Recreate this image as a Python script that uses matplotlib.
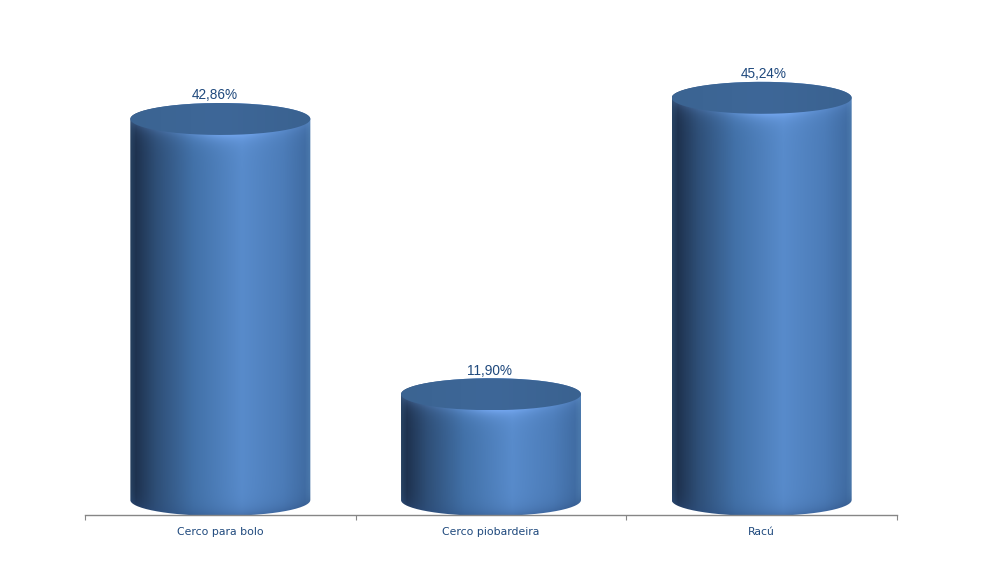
import matplotlib
matplotlib.use('Agg')
import matplotlib.pyplot as plt
from matplotlib.colors import LinearSegmentedColormap
from matplotlib.path import Path
from matplotlib.patches import PathPatch
import numpy as np

categories = ['Cerco para bolo', 'Cerco piobardeira', 'Racú']
values = [42.86, 11.90, 45.24]
value_labels = ['42,86%', '11,90%', '45,24%']

text_color = '#1f497d'
axis_color = '#868686'

# pixel layout of the reference
W, H = 985, 580
ax_left, ax_right = 85, 897
ax_bottom, ax_top = 515, 40
zero_px = 500
px_per_unit = 8.89
half_w_px = 90
half_h_px = 16
label_shift_px = [-6, -1, 2]

side_cmap = LinearSegmentedColormap.from_list('side', [
    (0.00, '#26405f'), (0.03, '#1e324f'), (0.14, '#2e4e76'), (0.35, '#4271a8'),
    (0.62, '#588bcb'), (0.85, '#4c7cb8'), (0.97, '#416da4'), (1.00, '#4a78ab')])
top_cmap = LinearSegmentedColormap.from_list('top', ['#3b6492', '#3e6798', '#3a6290'])

fig = plt.figure(figsize=(W / 100, H / 100), dpi=100)
ax = fig.add_axes([ax_left / W, 1 - ax_bottom / H, (ax_right - ax_left) / W, (ax_bottom - ax_top) / H])
ax.set_xlim(-0.5, 2.5)
ax.set_ylim((zero_px - ax_bottom) / px_per_unit, (zero_px - ax_top) / px_per_unit)

half_w = half_w_px / ((ax_right - ax_left) / 3)
half_h = half_h_px / px_per_unit


def cylinder(x, v):
    t = np.linspace(0, 2 * np.pi, 200)
    # outline: upper half of top ellipse, then lower half of bottom ellipse
    a = np.linspace(0, np.pi, 100)
    px = np.r_[x + half_w * np.cos(a), x - half_w * np.cos(a)]
    py = np.r_[v + half_h * np.sin(a), 0 - half_h * np.sin(a)]
    outline = PathPatch(Path(np.c_[px, py]), transform=ax.transData, fc='none', ec='none')
    ax.add_patch(outline)

    ny = int((v + 2 * half_h) * px_per_unit)
    nx = 2 * half_w_px
    xx = np.linspace(-1, 1, nx)
    yy = np.linspace(v + half_h, -half_h, ny)
    X, Y = np.meshgrid(xx, yy)
    rgb = side_cmap((X + 1) / 2)[:, :, :3]

    # light bevel just under the top face
    edge = v - half_h * np.sqrt(np.clip(1 - X ** 2, 0, 1))
    d = np.clip((edge - Y) * px_per_unit, 0, None)
    glow = np.exp(-d / 7) * (0.22 + 0.5 * np.exp(-((X - 0.1) / 0.4) ** 2))
    rgb = rgb + (np.array([0.50, 0.70, 1.0]) - rgb) * glow[:, :, None]

    # rim at the bottom, a bit darker
    edge_b = -half_h * np.sqrt(np.clip(1 - X ** 2, 0, 1))
    d_b = np.clip((Y - edge_b) * px_per_unit, 0, None)
    rim = np.exp(-d_b / 7) * 0.4
    rgb = rgb + (np.array([0.17, 0.30, 0.50]) - rgb) * rim[:, :, None]

    im = ax.imshow(np.clip(rgb, 0, 1), extent=[x - half_w, x + half_w, -half_h, v + half_h],
                   aspect='auto', zorder=2, interpolation='bilinear')
    im.set_clip_path(outline)

    # top face
    top = PathPatch(Path(np.c_[x + half_w * np.cos(t), v + half_h * np.sin(t)]),
                    transform=ax.transData, fc='none', ec='none')
    ax.add_patch(top)
    grad = top_cmap(np.linspace(0, 1, nx))[None, :, :3]
    im2 = ax.imshow(grad, extent=[x - half_w, x + half_w, v - half_h, v + half_h],
                    aspect='auto', zorder=3)
    im2.set_clip_path(top)


for i, v in enumerate(values):
    cylinder(i, v)
    ax.annotate(value_labels[i], (i, v + half_h), xytext=(label_shift_px[i] * 0.72, 0.4),
                textcoords='offset points', ha='center', va='bottom', fontsize=9.8,
                color=text_color, family='Liberation Sans', zorder=4)

ax.set_xlim(-0.5, 2.5)
ax.set_ylim((zero_px - ax_bottom) / px_per_unit, (zero_px - ax_top) / px_per_unit)
ax.patch.set_visible(False)
for s in ['top', 'left', 'right']:
    ax.spines[s].set_visible(False)
ax.spines['bottom'].set_color(axis_color)
ax.spines['bottom'].set_linewidth(1)
ax.set_yticks([])
ax.set_xticks([-0.5, 0.5, 1.5, 2.5])
ax.set_xticklabels([])
ax.tick_params(axis='x', length=3.6, width=0.8, color=axis_color)
ax.set_xticks(range(3), minor=True)
ax.set_xticklabels(categories, minor=True, fontsize=7.8, color=text_color, family='DejaVu Sans')
ax.tick_params(axis='x', which='minor', length=0, pad=8.5)

fig.savefig('out.png', dpi=100)
